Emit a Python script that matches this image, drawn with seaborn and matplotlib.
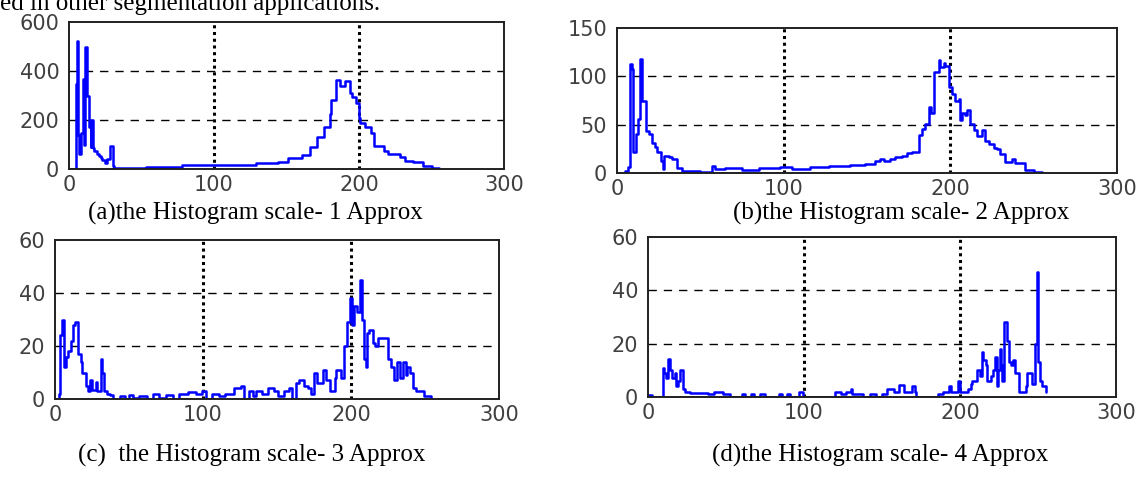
import matplotlib
matplotlib.use("Agg")
import matplotlib.pyplot as plt
import seaborn as sns

sns.set_style("white")

# histogram outlines (gray level -> pixel count)
a_gray = [0, 4.5, 5.5, 6.3, 7, 8, 9.5, 10.6, 11.3, 12.3,
          14, 15, 15.5, 16.5, 17.5, 19, 20.5, 22, 23, 24.5,
          26.5, 28.5, 30, 31, 33, 53, 78, 98, 129, 144,
          151, 161, 166, 171, 176, 180, 181, 184, 187, 190,
          194, 195, 198, 200, 201, 204, 208, 210, 213, 217,
          220, 228, 232, 237, 244, 250, 255]
a_count = [0, 347, 523, 140, 60, 147, 367, 100, 500, 300,
           170, 90, 200, 87, 75, 60, 55, 45, 35, 25,
           40, 95, 13, 4, 4, 10, 15, 18, 25, 30,
           45, 58, 90, 130, 170, 225, 280, 363, 340, 360,
           310, 295, 270, 207, 187, 173, 146, 92, 95, 72,
           62, 51, 31, 27, 13, 4, 0]

b_gray = [0, 5, 6.5, 7.6, 8.8, 9.8, 11.5, 12.6, 13.8, 15.2,
          17.4, 19, 20.7, 22.9, 24, 26.2, 27.3, 28, 31, 33,
          36, 39, 50, 57, 59, 65, 75, 85, 98, 105,
          116, 127, 140, 149, 155, 158, 160, 164, 167, 171,
          174, 177, 181, 183, 185, 187, 188.5, 190, 193, 194,
          196, 197, 199, 201, 203, 205, 206, 207, 209, 210,
          212, 214, 216, 219, 221, 223, 226, 228, 230, 233,
          237, 239, 245, 250, 255]
b_count = [0, 2, 6, 113, 108, 22, 40, 56, 118, 75,
           43, 40, 31, 27, 22, 12, 4, 18, 17, 15,
           5, 2.5, 1, 7, 4, 5, 3, 5, 6, 4,
           6, 7, 8, 9, 12, 14, 12, 15, 17, 18,
           21, 22, 39, 46, 51, 68, 62, 105, 117, 110,
           114, 111, 89, 82, 75, 77, 55, 62, 60, 65,
           51, 45, 38, 44, 33, 30, 26, 25, 20, 11,
           15, 10, 3, 1, 0]

c_gray = [0, 2.5, 3.2, 4.9, 6.2, 7.4, 8.6, 11, 12.3, 13.6,
          15.3, 17.3, 18.5, 21, 22.3, 23.5, 24.7, 27.7, 28.4, 30.9,
          32, 33.3, 35, 37, 39.5, 44, 47, 50, 53, 57,
          62, 66, 70, 75, 80, 84, 90, 95, 99, 102,
          106, 111, 115, 121, 126, 128, 131, 134, 136, 140,
          144, 148, 151, 155, 158, 160, 163, 165, 168, 171,
          173, 175, 177, 181, 183, 186, 189, 190, 193, 195,
          197.5, 199, 201, 202, 204, 206, 207.4, 208.6, 210, 211,
          212, 215, 216, 218.5, 225, 227, 229, 231, 233, 235,
          237, 238, 240, 242, 244, 249, 254]
c_count = [0, 2, 24, 30, 12, 16, 18, 22, 28, 29,
           17, 14, 10, 5, 3, 7, 3.5, 6.6, 3, 15,
           10, 3, 2, 1.6, 0, 1, 0, 1.5, 0.5, 1,
           0, 2, 0.5, 1.5, 0, 2, 2.5, 2, 3, 0,
           2, 1, 2, 4, 5, 0, 3, 1, 3, 2,
           4, 3, 1, 3, 4, 0, 6, 7, 5, 4,
           2, 10, 6, 11, 7, 3, 8, 11, 8, 20,
           29, 38, 28, 35, 33, 45, 30, 15, 12, 25,
           26, 21, 20, 23, 15, 12, 7, 14, 8, 14,
           9, 12, 10, 4, 3, 1, 0]

d_gray = [0, 2.3, 9.3, 10.5, 11.5, 12.8, 14, 15.5, 17, 18,
          19, 20.3, 22.2, 23.4, 27, 38.6, 42, 48, 52.6, 60,
          62, 66, 68, 72, 75, 84, 86, 89, 91, 97,
          99.4, 120, 124, 127, 130, 131, 138, 142, 146, 150,
          153, 158, 161, 164, 169, 171, 172, 186, 189, 193,
          194, 199, 200, 205, 207, 208, 210.6, 213, 214, 215,
          216.5, 217.6, 220, 221, 222.3, 223.4, 224.6, 225.7, 226.4, 227,
          228.3, 230, 231.6, 232.8, 234, 235, 237.5, 240, 242, 243,
          246, 248, 249.6, 250.3, 251.5, 252.7, 255]
d_count = [0.6, 0, 11, 9, 7, 14.4, 10, 7, 9, 4,
           6, 10, 3, 2, 1.5, 1, 2, 1, 0, 1,
           0, 1, 0, 1, 0, 1, 0, 1, 0, 2,
           0, 2, 1, 2, 3, 1, 0, 1, 0, 1,
           3, 2, 4.5, 2, 4, 2, 0, 1, 2, 4,
           2, 6, 2, 3, 5, 6, 10, 8, 17, 14,
           12, 6, 8, 10, 15, 4, 10, 18, 12, 6,
           28, 21, 13, 12, 14, 9, 2, 2, 4, 9,
           5, 20, 47, 13, 6, 4, 2]

x_ticks = [0, 100, 200, 300]
y_tops = [600, 150, 60, 60]
y_steps = [200, 50, 20, 20]
captions = ["(a)the Histogram scale- 1 Approx",
            "(b)the Histogram scale- 2 Approx",
            "(c)  the Histogram scale- 3 Approx",
            "(d)the Histogram scale- 4 Approx"]

W, H = 1146, 479
fig = plt.figure(figsize=(W / 100, H / 100), dpi=100)

# axes boxes in pixels: left, top, right, bottom
boxes = [(69, 22, 504, 169), (617, 28, 1117, 173),
         (55, 240, 499, 399), (648, 237, 1116, 397)]
cap_pos = [(88, 213), (733, 213), (78, 455), (712, 455)]
series = [(a_gray, a_count), (b_gray, b_count),
          (c_gray, c_count), (d_gray, d_count)]

for i, (l, t, r, b) in enumerate(boxes):
    ax = fig.add_axes([l / W, 1 - b / H, (r - l) / W, (b - t) / H])
    gx, gy = series[i]
    sns.lineplot(x=gx, y=gy, drawstyle="steps-post", estimator=None,
                 sort=False, color="#0000ff", linewidth=1.8, ax=ax)
    ax.set_xlim(0, 300)
    ax.set_ylim(0, y_tops[i])
    ax.set_xticks(x_ticks)
    ax.set_yticks(list(range(0, y_tops[i] + 1, y_steps[i])))
    ax.set_axisbelow(True)
    ax.yaxis.grid(True, linestyle=(0, (6, 5)), color="black", linewidth=1.0)
    ax.xaxis.grid(True, linestyle=(0, (1, 1.2)), color="black", linewidth=2.2)
    # MATLAB style: no grid lines on the frame itself
    for gl in ax.xaxis.get_gridlines()[::len(x_ticks) - 1]:
        gl.set_visible(False)
    ygl = ax.yaxis.get_gridlines()
    ygl[0].set_visible(False)
    ygl[-1].set_visible(False)
    for s in ax.spines.values():
        s.set_visible(True)
        s.set_color("#202020")
        s.set_linewidth(1.4)
    ax.tick_params(length=0, labelsize=15, labelcolor="#404040")
    ax.tick_params(axis="x", pad=4)
    ax.tick_params(axis="y", pad=7)
    for lab in ax.get_xticklabels() + ax.get_yticklabels():
        lab.set_family("DejaVu Sans")
    cx, cy = cap_pos[i]
    fig.text(cx / W, 1 - cy / H, captions[i], ha="left", va="center",
             fontsize=18, family="Liberation Serif", color="black")

# cut-off line of body text at the top of the scan
fig.text(0, 1 - 10 / H, "ed in other segmentation applications.", ha="left",
         va="baseline", fontsize=18, family="Liberation Serif", color="black")

fig.savefig("out.png", dpi=100)
